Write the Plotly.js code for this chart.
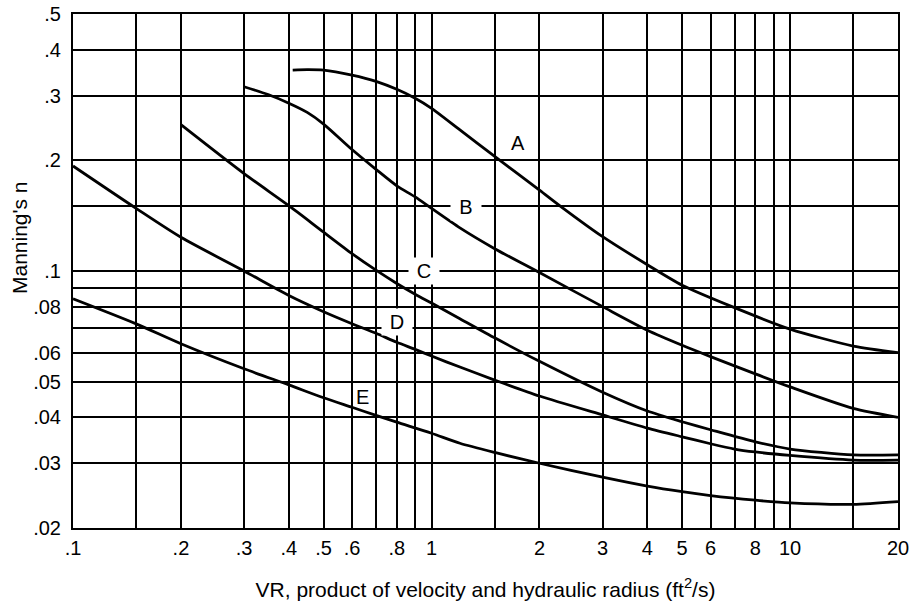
<!DOCTYPE html>
<html>
<head>
<meta charset="utf-8">
<script src="https://cdn.plot.ly/plotly-3.0.1.min.js"></script>
<style>html,body{margin:0;padding:0;background:#fff;}#chart{width:914px;height:607px;}</style>
</head>
<body>
<div id="chart"></div>
<script>
// ---- data ----
var curveNames = ['A', 'B', 'C', 'D', 'E'];

var xA = [0.41, 0.45, 0.5, 0.6, 0.7, 0.8, 0.9, 1.0, 1.2, 1.5, 2, 2.3, 3, 4, 5, 7, 10, 15, 20];
var yA = [0.352, 0.353, 0.352, 0.341, 0.328, 0.312, 0.295, 0.277, 0.242, 0.205, 0.166, 0.1495, 0.124, 0.104, 0.0915, 0.0795, 0.0695, 0.0625, 0.060];

var xB = [0.3, 0.35, 0.4, 0.45, 0.5, 0.6, 0.7, 0.8, 0.9, 1.0, 1.2, 1.5, 2, 3, 4, 5, 6, 8, 10, 15, 20];
var yB = [0.317, 0.302, 0.286, 0.270, 0.251, 0.214, 0.189, 0.1705, 0.159, 0.148, 0.131, 0.115, 0.099, 0.080, 0.069, 0.0628, 0.0585, 0.0525, 0.0484, 0.0423, 0.040];

var xC = [0.2, 0.3, 0.4, 0.5, 0.6, 0.7, 0.8, 0.9, 1.0, 1.2, 1.5, 2, 3, 4, 5, 6, 8, 10, 15, 20];
var yC = [0.250, 0.184, 0.1505, 0.1275, 0.1115, 0.1005, 0.0925, 0.0865, 0.0818, 0.0742, 0.0658, 0.0568, 0.0468, 0.0416, 0.0389, 0.0370, 0.0343, 0.0328, 0.0316, 0.0316];

var xD = [0.1, 0.15, 0.2, 0.3, 0.4, 0.5, 0.6, 0.7, 0.8, 0.9, 1.0, 1.2, 1.5, 2, 3, 4, 5, 6, 7, 8, 10, 15, 20];
var yD = [0.193, 0.148, 0.1235, 0.100, 0.0858, 0.0775, 0.0719, 0.0677, 0.064, 0.0612, 0.0587, 0.0548, 0.0505, 0.0457, 0.0406, 0.0374, 0.0354, 0.0339, 0.0328, 0.0322, 0.0315, 0.0306, 0.0306];

var xE = [0.1, 0.15, 0.2, 0.3, 0.4, 0.5, 0.6, 0.7, 0.8, 1.0, 1.2, 1.5, 2, 3, 4, 5, 6, 8, 10, 15, 20];
var yE = [0.0840, 0.0718, 0.0634, 0.0542, 0.049, 0.0452, 0.0426, 0.0405, 0.0388, 0.0362, 0.0340, 0.0321, 0.0300, 0.0275, 0.0260, 0.0251, 0.0245, 0.0238, 0.0234, 0.0232, 0.0236];

// curve label anchor values (data units)
var labelX = [1.74, 1.25, 0.95, 0.80, 0.64];
var labelY = [0.2225, 0.149, 0.100, 0.0725, 0.0455];
var labelBoxed = [false, true, true, true, false];

// axis tick labels and extra (unlabelled) grid lines
var xTickVals = [0.1, 0.2, 0.3, 0.4, 0.5, 0.6, 0.8, 1, 2, 3, 4, 5, 6, 8, 10, 20];
var xTickText = ['.1', '.2', '.3', '.4', '.5', '.6', '.8', '1', '2', '3', '4', '5', '6', '8', '10', '20'];
var xGridExtra = [0.15, 0.7, 0.9, 1.5, 7, 9, 15];
var yTickVals = [0.02, 0.03, 0.04, 0.05, 0.06, 0.08, 0.1, 0.2, 0.3, 0.4, 0.5];
var yTickText = ['.02', '.03', '.04', '.05', '.06', '.08', '.1', '.2', '.3', '.4', '.5'];
var yGridExtra = [0.07, 0.09, 0.15];

var xTitle = 'VR, product of velocity and hydraulic radius (ft<sup>2</sup>/s)';
var yTitle = "Manning's n";

// ---- build ----
var xs = [xA, xB, xC, xD, xE];
var ys = [yA, yB, yC, yD, yE];
var traces = curveNames.map(function (n, i) {
  return {
    type: 'scatter', mode: 'lines', name: n,
    x: xs[i], y: ys[i],
    line: {color: '#000', width: 2.8, shape: 'spline', smoothing: 0.7},
    hoverinfo: 'x+y+name'
  };
});

var FONT = 'Liberation Sans, Arial, Helvetica, sans-serif';

var annotations = curveNames.map(function (n, i) {
  var a = {
    x: Math.log10(labelX[i]), y: Math.log10(labelY[i]),
    xref: 'x', yref: 'y', text: n, showarrow: false,
    font: {family: FONT, size: 20, color: '#000'},
    xanchor: 'center', yanchor: 'middle'
  };
  if (labelBoxed[i]) { a.bgcolor = '#fff'; a.width = 28; a.height = 24; }
  return a;
});
annotations.push({
  xref: 'paper', yref: 'paper', x: -0.0655, y: 0.566,
  text: yTitle, textangle: -90, showarrow: false,
  xanchor: 'center', yanchor: 'middle',
  font: {family: FONT, size: 21, color: '#000'}
});

function axis(extra) {
  return {
    type: 'log', showgrid: true, gridcolor: '#000', gridwidth: 2,
    showline: true, linecolor: '#000', linewidth: 2, mirror: true,
    ticks: '', zeroline: false, tickmode: 'array',
    tickfont: {family: FONT, size: 20, color: '#000'},
    minor: {tickmode: 'array', tickvals: extra, ticks: '', showgrid: true, gridcolor: '#000', gridwidth: 2}
  };
}

var layout = {
  width: 914, height: 607,
  margin: {l: 73, r: 16, t: 14, b: 79},
  paper_bgcolor: '#fff', plot_bgcolor: '#fff',
  showlegend: false,
  font: {family: FONT, color: '#000'},
  xaxis: Object.assign(axis(xGridExtra), {
    range: [Math.log10(0.1), Math.log10(20)],
    tickvals: xTickVals, ticktext: xTickText,
    ticklabelstandoff: 1,
    title: {text: xTitle, font: {family: FONT, size: 21, color: '#000'}, standoff: 24}
  }),
  yaxis: Object.assign(axis(yGridExtra), {
    range: [Math.log10(0.02), Math.log10(0.5)],
    tickvals: yTickVals, ticktext: yTickText,
    ticklabelstandoff: 6
  }),
  annotations: annotations
};

Plotly.newPlot('chart', traces, layout, {displayModeBar: false, staticPlot: true});
</script>
</body>
</html>
